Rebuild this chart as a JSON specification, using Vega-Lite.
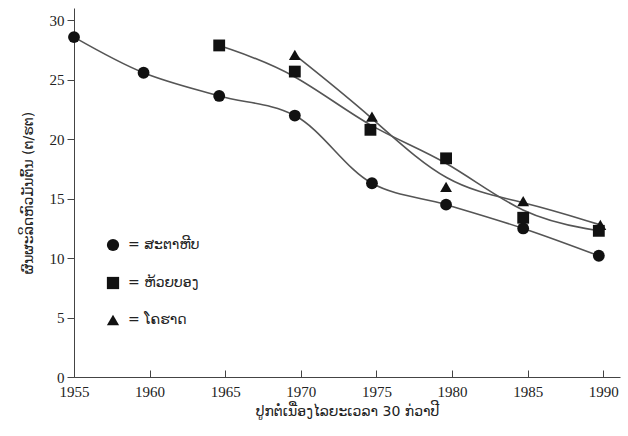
{
  "$schema": "https://vega.github.io/schema/vega-lite/v6.json",
  "width": 546,
  "height": 369,
  "autosize": "none",
  "padding": {"left": 74, "top": 8, "right": 8, "bottom": 59},
  "background": "white",
  "config": {
    "view": {"stroke": null},
    "axis": {"grid": false, "domainColor": "#444", "tickColor": "#444", "labelColor": "#222", "titleColor": "#222", "labelFont": "Liberation Serif", "labelFontSize": 15, "titleFontWeight": "normal"}
  },
  "data": {"values": [
    {"year": 1955, "value": 28.6, "site": "ສະຕາຫີບ"},
    {"year": 1959.6, "value": 25.6, "site": "ສະຕາຫີບ"},
    {"year": 1964.6, "value": 23.65, "site": "ສະຕາຫີບ"},
    {"year": 1969.6, "value": 22.0, "site": "ສະຕາຫີບ"},
    {"year": 1974.7, "value": 16.3, "site": "ສະຕາຫີບ"},
    {"year": 1979.6, "value": 14.5, "site": "ສະຕາຫີບ"},
    {"year": 1984.7, "value": 12.5, "site": "ສະຕາຫີບ"},
    {"year": 1989.7, "value": 10.2, "site": "ສະຕາຫີບ"},
    {"year": 1964.6, "value": 27.9, "site": "ຫ້ວຍບອງ"},
    {"year": 1969.6, "value": 25.7, "site": "ຫ້ວຍບອງ"},
    {"year": 1974.6, "value": 20.8, "site": "ຫ້ວຍບອງ"},
    {"year": 1979.6, "value": 18.4, "site": "ຫ້ວຍບອງ"},
    {"year": 1984.7, "value": 13.4, "site": "ຫ້ວຍບອງ"},
    {"year": 1989.7, "value": 12.3, "site": "ຫ້ວຍບອງ"},
    {"year": 1969.6, "value": 27.1, "site": "ໂຄຮາດ"},
    {"year": 1974.7, "value": 21.9, "site": "ໂຄຮາດ"},
    {"year": 1979.6, "value": 16.0, "site": "ໂຄຮາດ"},
    {"year": 1984.7, "value": 14.8, "site": "ໂຄຮາດ"},
    {"year": 1989.8, "value": 12.8, "site": "ໂຄຮາດ"}
  ]},
  "encoding": {
    "x": {"field": "year", "type": "quantitative", "scale": {"domain": [1955, 1991.1], "nice": false, "zero": false},
      "axis": {"values": [1955, 1960, 1965, 1970, 1975, 1980, 1985, 1990], "format": "d", "tickSize": -7, "labelPadding": 14, "labelFlush": false,
        "title": "ປູກຕໍ່ເນື່ອງໄລຍະເວລາ 30 ກ່ວາປີ", "titleFont": "DejaVu Sans", "titleFontSize": 14, "titlePadding": 5}},
    "y": {"field": "value", "type": "quantitative", "scale": {"domain": [0, 31.05], "nice": false},
      "axis": {"values": [0, 5, 10, 15, 20, 25, 30], "tickSize": 7, "labelPadding": 3,
        "title": "ຜົນຜະລິດຫົວມັນຕົ້ນ (ຕ/ຮຕ)", "titleFont": "DejaVu Sans", "titleFontSize": 14, "titlePadding": 14}}
  },
  "layer": [
    {"transform": [{"filter": "datum.site === 'ສະຕາຫີບ'"}],
     "mark": {"type": "line", "interpolate": "catmull-rom", "color": "#555", "strokeWidth": 1.6},
     "encoding": {"detail": {"field": "site"}}},
    {"transform": [{"filter": "datum.site !== 'ສະຕາຫີບ'"}],
     "mark": {"type": "line", "interpolate": "basis", "color": "#555", "strokeWidth": 1.6},
     "encoding": {"detail": {"field": "site"}}},
    {"mark": {"type": "point", "filled": true, "opacity": 1, "color": "#111", "size": 140},
     "encoding": {"shape": {"field": "site", "type": "nominal",
       "scale": {"domain": ["ສະຕາຫີບ", "ຫ້ວຍບອງ", "ໂຄຮາດ"], "range": ["circle", "square", "triangle-up"]},
       "legend": {"orient": "none", "legendX": 32, "legendY": 230, "title": null, "labelExpr": "'=  ' + datum.label",
         "labelFont": "DejaVu Sans", "labelFontSize": 14, "labelColor": "#222", "symbolFillColor": "#111", "symbolStrokeColor": "#111",
         "symbolSize": 150, "rowPadding": 18, "labelOffset": 8, "labelLimit": 300}}}}
  ]
}
